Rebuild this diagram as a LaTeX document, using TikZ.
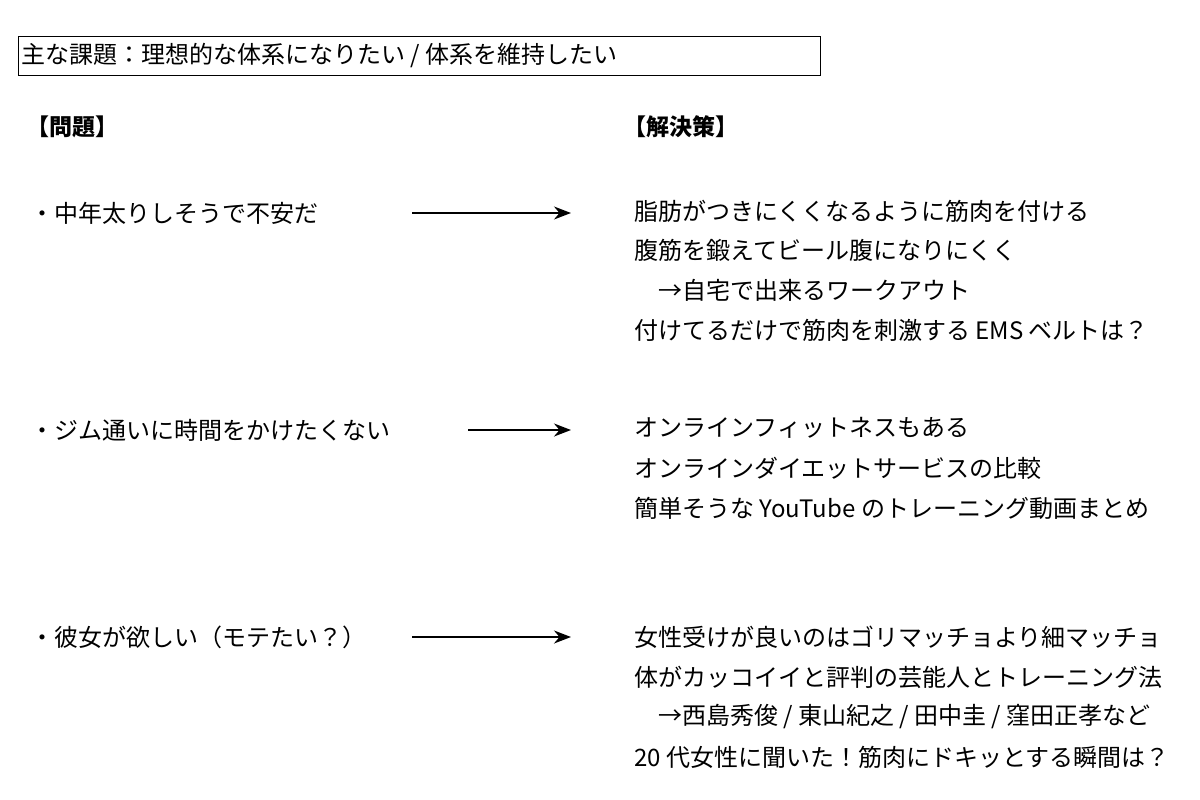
\documentclass[tikz,border=0pt]{standalone}
\usepackage{fontspec}
\setmainfont{Noto Sans CJK JP}
\usetikzlibrary{arrows.meta}

\tikzset{
  txt/.style={anchor=west, inner sep=0pt, font=\fontsize{24}{27}\selectfont},
  head/.style={anchor=west, inner sep=0pt, font=\fontsize{23}{26}\selectfont\bfseries},
  link/.style={-{Stealth[length=17pt,width=13pt]}, line width=1.6pt}
}

\begin{document}
\begin{tikzpicture}[x=1pt, y=-1pt]
\useasboundingbox (0,0) rectangle (1200,800);

% Title box
\draw[line width=0.8pt] (18,36) rectangle (820,75);
\node[txt] (title) at (21,56) {主な課題：理想的な体系になりたい / 体系を維持したい};

% Headings
\node[head] (mondai) at (26,127) {【問題】};
\node[head] (kaiketsu) at (623,127) {【解決策】};

% Problems
\node[txt] (p1) at (30,213) {・中年太りしそうで不安だ};
\node[txt] (p2) at (30,430) {・ジム通いに時間をかけたくない};
\node[txt] (p3) at (30,637) {・彼女が欲しい（モテたい？）};

% Solutions
\node[txt] (s1a) at (634,211) {脂肪がつきにくくなるように筋肉を付ける};
\node[txt] (s1b) at (634,250) {腹筋を鍛えてビール腹になりにくく};
\node[txt] (s1c) at (658,290) {→自宅で出来るワークアウト};
\node[txt] (s1d) at (634,330) {付けてるだけで筋肉を刺激する EMS ベルトは？};

\node[txt] (s2a) at (634,428) {オンラインフィットネスもある};
\node[txt] (s2b) at (634,468) {オンラインダイエットサービスの比較};
\node[txt] (s2c) at (634,508) {簡単そうな YouTube のトレーニング動画まとめ};

\node[txt] (s3a) at (634,637) {女性受けが良いのはゴリマッチョより細マッチョ};
\node[txt] (s3b) at (634,677) {体がカッコイイと評判の芸能人とトレーニング法};
\node[txt] (s3c) at (658,717) {→西島秀俊 / 東山紀之 / 田中圭 / 窪田正孝など};
\node[txt] (s3d) at (634,757) {20 代女性に聞いた！筋肉にドキッとする瞬間は？};

% Arrows
\coordinate (a1s) at (412,213);
\coordinate (a1e) at (571,213);
\coordinate (a2s) at (468,430);
\coordinate (a2e) at (571,430);
\coordinate (a3s) at (412,637);
\coordinate (a3e) at (571,637);
\draw[link] (a1s) -- (a1e);
\draw[link] (a2s) -- (a2e);
\draw[link] (a3s) -- (a3e);
\end{tikzpicture}
\end{document}
